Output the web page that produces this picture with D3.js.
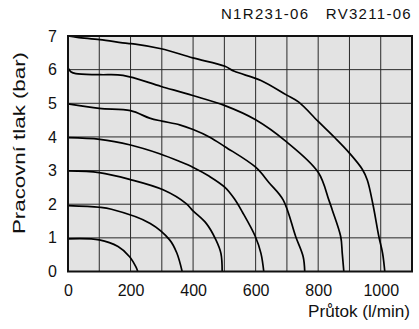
<!DOCTYPE html>
<html><head><meta charset="utf-8">
<script src="https://cdn.jsdelivr.net/npm/d3@7"></script>
<style>
body{margin:0;background:#fff;}
text{font-family:"Liberation Sans",Arial,sans-serif;fill:#111;}
</style></head>
<body><svg id="c" width="419" height="329"></svg>
<script>
const title = "N1R231-06   RV3211-06";
const xLabel = "Průtok (l/min)";
const yLabel = "Pracovní tlak (bar)";
const xTickLabels = [0, 200, 400, 600, 800, 1000];
const yTickLabels = [0, 1, 2, 3, 4, 5, 6, 7];
const curve1 = [[0,0.97],[100,0.94],[160,0.74],[197,0.44],[218,0.12],[223,0]];
const curve2 = [[0,1.96],[100,1.91],[139,1.85],[263,1.43],[325,0.94],[348,0.55],[365,0]];
const curve3 = [[0,2.99],[100,2.94],[197,2.74],[304,2.43],[378,2.02],[399,1.81],[442,1.43],[473,0.94],[489,0.54],[493,0]];
const curve4 = [[0,3.98],[102,3.93],[200,3.76],[293,3.5],[357,3.27],[399,3.1],[452,2.83],[502,2.5],[532,2.16],[558,1.76],[599,1.04],[617,0.54],[626,0]];
const curve5 = [[0,4.98],[100,4.85],[200,4.78],[261,4.56],[300,4.47],[357,4.36],[400,4.22],[452,4.0],[502,3.71],[600,3.1],[643,2.64],[688,2.13],[728,1.04],[752,0.44],[757,0]];
const curve6 = [[0,6.05],[10,5.93],[25,5.88],[102,5.85],[176,5.83],[298,5.5],[399,5.23],[502,4.93],[600,4.51],[698,3.86],[800,2.95],[834,2.13],[845,1.83],[872,1.04],[877,0.54],[882,0]];
const curve7 = [[0,7.0],[30,6.96],[102,6.89],[190,6.78],[215,6.76],[298,6.62],[399,6.35],[502,6.1],[532,5.95],[617,5.68],[698,5.25],[737,5.04],[800,4.46],[855,3.96],[900,3.52],[941,3.04],[957,2.72],[975,2.0],[994,1.04],[1006,0.54],[1013,0]];
const curves = [curve1, curve2, curve3, curve4, curve5, curve6, curve7];

const svg = d3.select("#c");
const x = d3.scaleLinear().domain([0,1100]).range([68,412]);
const y = d3.scaleLinear().domain([0,7]).range([271.5,36]);

svg.append("rect").attr("x",x(0)).attr("y",y(7)).attr("width",x(1100)-x(0)).attr("height",y(0)-y(7)).attr("fill","#e3e3e3");

const g = svg.append("g");
g.selectAll("line.v").data(d3.range(100,1100,100)).join("line")
  .attr("x1",d=>x(d)).attr("x2",d=>x(d)).attr("y1",y(0)).attr("y2",y(7))
  .attr("stroke","#2a2a2a").attr("stroke-width",1);
g.selectAll("line.h").data(d3.range(1,7,1)).join("line")
  .attr("y1",d=>y(d)).attr("y2",d=>y(d)).attr("x1",x(0)).attr("x2",x(1100))
  .attr("stroke","#2a2a2a").attr("stroke-width",1);

const line = d3.line().x(d=>x(d[0])).y(d=>y(d[1])).curve(d3.curveCatmullRom.alpha(0.5));
svg.selectAll("path.c").data(curves).join("path")
  .attr("d",line).attr("fill","none").attr("stroke","#000").attr("stroke-width",1.7)
  .attr("stroke-linejoin","round");

svg.append("rect").attr("x",x(0)).attr("y",y(7)).attr("width",x(1100)-x(0)).attr("height",y(0)-y(7))
  .attr("fill","none").attr("stroke","#111").attr("stroke-width",2);

const xAxis = d3.axisBottom(x).tickValues(xTickLabels).tickFormat(d3.format("d")).tickSize(0).tickPadding(13);
const xg = svg.append("g").attr("transform",`translate(0,${y(0)})`).call(xAxis);
const yAxis = d3.axisLeft(y).tickValues(yTickLabels).tickFormat(d3.format("d")).tickSize(0).tickPadding(11);
const yg = svg.append("g").attr("transform",`translate(${x(0)},0)`).call(yAxis);
[xg,yg].forEach(a=>{a.select(".domain").remove();
  a.selectAll("text").style("font-family","'Liberation Sans',Arial,sans-serif").style("font-size","16px").attr("fill","#111");});

svg.append("text").attr("x",412).attr("y",19).attr("text-anchor","end")
  .style("font-size","15px").style("letter-spacing","1.3px").style("white-space","pre").text(title);
svg.append("text").attr("x",410).attr("y",317).attr("text-anchor","end")
  .attr("textLength",102).attr("lengthAdjust","spacingAndGlyphs")
  .style("font-size","16.5px").text(xLabel);
svg.append("text").attr("transform","translate(25,143) rotate(-90)").attr("text-anchor","middle")
  .attr("textLength",182).attr("lengthAdjust","spacingAndGlyphs")
  .style("font-size","16px").text(yLabel);
</script></body></html>
